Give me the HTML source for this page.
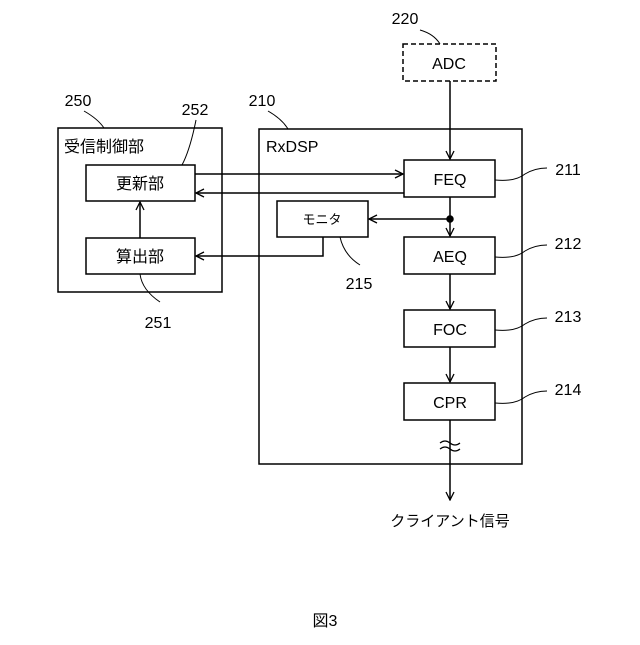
<!DOCTYPE html>
<html><head><meta charset="utf-8"><style>body{margin:0;background:#fff}</style></head><body>
<svg width="640" height="640" viewBox="0 0 640 640" xmlns="http://www.w3.org/2000/svg" font-family="Liberation Sans, Noto Sans CJK JP, sans-serif" fill="none" stroke="#000" stroke-width="1.5">
<defs><marker id="a" markerWidth="10" markerHeight="10" refX="9" refY="5" orient="auto" markerUnits="userSpaceOnUse"><path d="M1,1 L9,5 L1,9" stroke="#000" stroke-width="1.3" fill="none"/></marker></defs>
<rect x="58" y="128" width="164" height="164"/>
<rect x="86" y="165" width="109" height="36"/>
<rect x="86" y="238" width="109" height="36"/>
<rect x="259" y="129" width="263" height="335"/>
<rect x="403" y="44" width="93" height="37" stroke-dasharray="5,3"/>
<rect x="404" y="160" width="91" height="37"/>
<rect x="404" y="237" width="91" height="37"/>
<rect x="404" y="310" width="91" height="37"/>
<rect x="404" y="383" width="91" height="37"/>
<rect x="277" y="201" width="91" height="36"/>
<line x1="450" y1="81" x2="450" y2="159" marker-end="url(#a)"/>
<line x1="450" y1="197" x2="450" y2="236" marker-end="url(#a)"/>
<line x1="450" y1="274" x2="450" y2="309" marker-end="url(#a)"/>
<line x1="450" y1="347" x2="450" y2="382" marker-end="url(#a)"/>
<line x1="450" y1="420" x2="450" y2="500" marker-end="url(#a)"/>
<path d="M440,443 q5,-4 10,0 t10,0 M440,449 q5,-4 10,0 t10,0" stroke-width="1.2"/>
<circle cx="450" cy="219" r="3" fill="#000"/>
<line x1="450" y1="219" x2="369" y2="219" marker-end="url(#a)"/>
<line x1="195" y1="174" x2="403" y2="174" marker-end="url(#a)"/>
<line x1="404" y1="193" x2="196" y2="193" marker-end="url(#a)"/>
<path d="M323,237 V256 H196" marker-end="url(#a)"/>
<line x1="140" y1="238" x2="140" y2="202" marker-end="url(#a)"/>
<g stroke-width="1">
<path d="M420,30 q14,4 20,14"/>
<path d="M84,111 q14,8 20,17"/>
<path d="M196,120 q-6,30 -14,45"/>
<path d="M268,111 q14,8 20,18"/>
<path d="M140,274 q2,16 20,28"/>
<path d="M340,237 q4,18 20,28"/>
<path d="M495,180 q20,2 30,-6 q10,-6 22,-6"/>
<path d="M495,257 q20,2 30,-6 q10,-6 22,-6"/>
<path d="M495,330 q20,2 30,-6 q10,-6 22,-6"/>
<path d="M495,403 q20,2 30,-6 q10,-6 22,-6"/>
</g>
<g fill="#000" stroke="none" font-size="16">
<text x="449" y="69" text-anchor="middle">ADC</text>
<text x="450" y="185" text-anchor="middle">FEQ</text>
<text x="450" y="262" text-anchor="middle">AEQ</text>
<text x="450" y="335" text-anchor="middle">FOC</text>
<text x="450" y="408" text-anchor="middle">CPR</text>
<text x="266" y="152">RxDSP</text>
<text x="64" y="152">受信制御部</text>
<text x="140" y="189" text-anchor="middle">更新部</text>
<text x="140" y="262" text-anchor="middle">算出部</text>
<text x="322" y="224" text-anchor="middle" font-size="13">モニタ</text>
<text x="450" y="526" text-anchor="middle" font-size="15">クライアント信号</text>
<text x="325" y="626" text-anchor="middle">図3</text>
<text x="405" y="24" text-anchor="middle">220</text>
<text x="78" y="106" text-anchor="middle">250</text>
<text x="195" y="115" text-anchor="middle">252</text>
<text x="262" y="106" text-anchor="middle">210</text>
<text x="359" y="289" text-anchor="middle">215</text>
<text x="158" y="328" text-anchor="middle">251</text>
<text x="568" y="175" text-anchor="middle">211</text>
<text x="568" y="249" text-anchor="middle">212</text>
<text x="568" y="322" text-anchor="middle">213</text>
<text x="568" y="395" text-anchor="middle">214</text>
</g>
</svg>
</body></html>
